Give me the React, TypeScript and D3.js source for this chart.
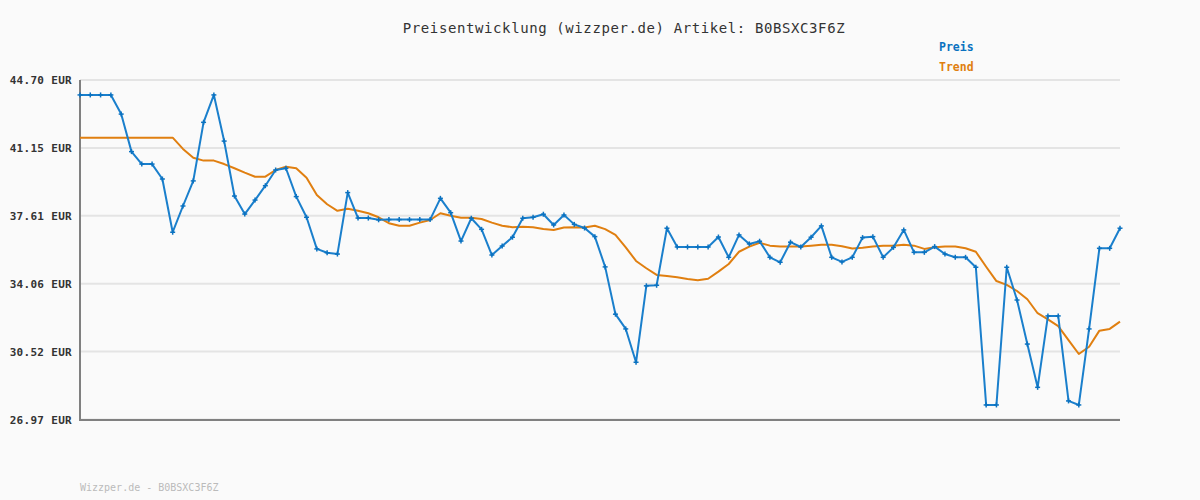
import React, { useEffect } from "react";
import * as d3 from "d3";

const title = "Preisentwicklung (wizzper.de) Artikel: B0BSXC3F6Z";
const footer = "Wizzper.de - B0BSXC3F6Z";
const seriesNames = ["Preis", "Trend"];
const yTicks = [44.7, 41.15, 37.61, 34.06, 30.52, 26.97];

const preis = [
  43.92, 43.92, 43.92, 43.92, 42.92, 40.96, 40.31, 40.31, 39.53, 36.75,
  38.12, 39.43, 42.49, 43.92, 41.51, 38.64, 37.7, 38.43, 39.18, 40.0,
  40.09, 38.61, 37.53, 35.88, 35.68, 35.61, 38.82, 37.49, 37.49, 37.4,
  37.41, 37.41, 37.41, 37.41, 37.41, 38.52, 37.77, 36.29, 37.48, 36.9,
  35.56, 36.03, 36.49, 37.48, 37.53, 37.69, 37.13, 37.65, 37.16, 36.97,
  36.52, 34.94, 32.47, 31.7, 29.96, 33.95, 33.98, 36.96, 35.98, 35.98,
  35.98, 35.98, 36.5, 35.44, 36.61, 36.14, 36.28, 35.44, 35.18, 36.23,
  35.98, 36.49, 37.08, 35.44, 35.2, 35.44, 36.47, 36.52, 35.44, 35.96,
  36.87, 35.7, 35.7, 36.0, 35.61, 35.44, 35.44, 34.92, 27.73, 27.73,
  34.92, 33.21, 30.91, 28.65, 32.38, 32.38, 27.94, 27.73, 31.7, 35.91,
  35.91, 36.96,
];

const trend = [
  41.69, 41.69, 41.69, 41.69, 41.69, 41.69, 41.69, 41.69, 41.69, 41.69,
  41.1, 40.64, 40.49, 40.49, 40.31, 40.09, 39.86, 39.65, 39.65, 40.0,
  40.17, 40.09, 39.6, 38.69, 38.21, 37.87, 37.98, 37.87, 37.74, 37.53,
  37.22, 37.09, 37.09, 37.25, 37.39, 37.74, 37.61, 37.51, 37.51, 37.44,
  37.25, 37.09, 37.01, 37.04, 37.01, 36.92, 36.87, 37.0, 37.01, 37.0,
  37.09, 36.91, 36.61, 35.96, 35.25, 34.87, 34.52, 34.47, 34.4, 34.31,
  34.24, 34.32, 34.69, 35.09, 35.73, 36.0, 36.2, 36.05, 36.0, 36.0,
  36.0, 36.05, 36.1, 36.1, 36.02, 35.9, 35.94, 36.0, 36.05, 36.05,
  36.1, 36.05, 35.88, 35.96, 36.0, 36.0, 35.91, 35.73, 34.95, 34.2,
  34.0, 33.68, 33.25, 32.52, 32.2, 31.85, 31.12, 30.39, 30.77, 31.61,
  31.7, 32.08,
];

const W = 1200;
const H = 500;
const BLUE = "#1a7fcc";
const BLUE_MARK = "#0b72c0";
const ORANGE = "#e07f10";
const MONO = "'DejaVu Sans Mono', 'Liberation Mono', monospace";

export default function App() {
  useEffect(() => {
    document.body.style.margin = "0";
  }, []);

  const x = d3.scaleLinear().domain([0, preis.length - 1]).range([80, 1120]);
  const y = d3.scaleLinear().domain([26.97, 44.7]).range([419.5, 80]);

  const line = d3
    .line<number>()
    .x((_, i) => x(i))
    .y((d) => y(d));

  return (
    <svg width={W} height={H} style={{ display: "block", background: "#fafafa" }}>
      <rect x={0} y={0} width={W} height={H} fill="#fafafa" />
      {yTicks.map((t) => (
        <g key={t}>
          <line x1={80} x2={1120} y1={y(t)} y2={y(t)} stroke="#e4e4e4" strokeWidth={2} />
          <text
            x={72}
            y={y(t) + 4}
            textAnchor="end"
            fontFamily={MONO}
            fontSize={11}
            fontWeight="bold"
            letterSpacing={0.3}
            fill="#333"
          >
            {t.toFixed(2)} EUR
          </text>
        </g>
      ))}
      <line x1={80} x2={80} y1={80} y2={421} stroke="#808080" strokeWidth={2} />
      <line x1={79} x2={1120} y1={420} y2={420} stroke="#808080" strokeWidth={2} />

      <path d={line(trend) || ""} fill="none" stroke={ORANGE} strokeWidth={2} strokeLinejoin="round" />
      <path d={line(preis) || ""} fill="none" stroke={BLUE} strokeWidth={2} strokeLinejoin="round" />
      {preis.map((v, i) => (
        <g key={i} stroke={BLUE_MARK} strokeWidth={1.5}>
          <line x1={x(i) - 2.5} x2={x(i) + 2.5} y1={y(v)} y2={y(v)} />
          <line x1={x(i)} x2={x(i)} y1={y(v) - 2.5} y2={y(v) + 2.5} />
        </g>
      ))}

      <text
        x={624}
        y={33}
        textAnchor="middle"
        fontFamily={MONO}
        fontSize={14}
        letterSpacing={0.6}
        fill="#333"
      >
        {title}
      </text>
      <text x={939} y={51} fontFamily={MONO} fontSize={11.5} fontWeight="bold" fill={BLUE_MARK}>
        {seriesNames[0]}
      </text>
      <text x={939} y={71} fontFamily={MONO} fontSize={11.5} fontWeight="bold" fill={ORANGE}>
        {seriesNames[1]}
      </text>
      <text x={80} y={491} fontFamily={MONO} fontSize={10} fill="#bbbbbb">
        {footer}
      </text>
    </svg>
  );
}
